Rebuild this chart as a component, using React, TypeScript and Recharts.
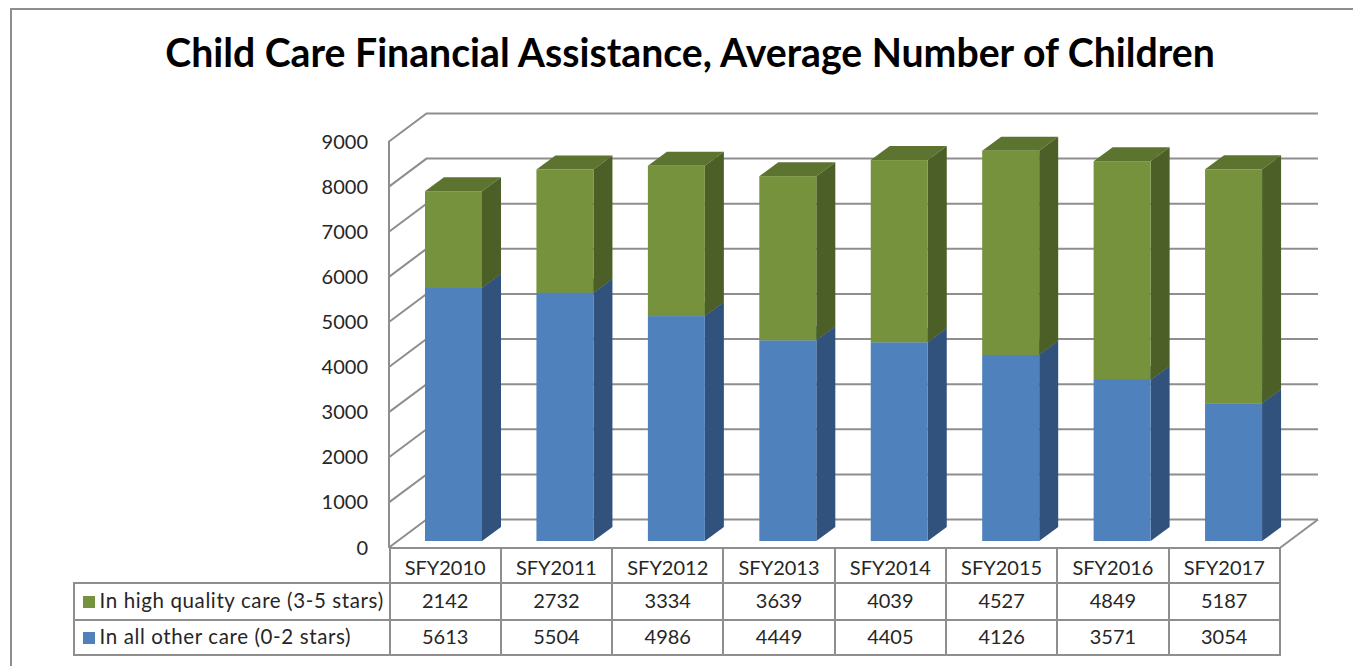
import { BarChart, Bar, XAxis, YAxis, CartesianGrid } from 'recharts';

const years = ['SFY2010', 'SFY2011', 'SFY2012', 'SFY2013', 'SFY2014', 'SFY2015', 'SFY2016', 'SFY2017'];
const highQuality = [2142, 2732, 3334, 3639, 4039, 4527, 4849, 5187];
const otherCare = [5613, 5504, 4986, 4449, 4405, 4126, 3571, 3054];
const yTicks = [0, 1000, 2000, 3000, 4000, 5000, 6000, 7000, 8000, 9000];

const TITLE = 'Child Care Financial Assistance, Average Number of Children';
const HIGH_LABEL = 'In high quality care (3-5 stars)';
const OTHER_LABEL = 'In all other care (0-2 stars)';

const chartData = years.map((year, i) => ({
  year,
  high: highQuality[i],
  other: otherCare[i],
}));

const FONT = 'Lato, "Open Sans", sans-serif';
const LINE = '#8e8e8e';
const TEXT = '#262626';

// 3D box depth
const DX = 19;
const DY = 14;
// wall offset from the bar plane
const WALL_LEFT = 389;
const WALL_BACK = 426.5;
const WALL_RIGHT = 1318;

const Box3D = (front: string, side: string, top: string) => (props: any) => {
  const { x, y, width, height } = props;
  const r = x + width;
  const b = y + height;
  return (
    <g>
      <polygon points={`${x},${y} ${x + DX},${y - DY} ${r + DX},${y - DY} ${r},${y}`} fill={top} />
      <polygon points={`${r},${y} ${r + DX},${y - DY} ${r + DX},${b - DY} ${r},${b}`} fill={side} />
      <rect x={x} y={y} width={width} height={height} fill={front} />
    </g>
  );
};

// grid line runs along the left wall then the back wall
const WallLine = (props: any) => {
  const y = props.y1;
  const front = y + 6.5;
  const back = y - 21.5;
  return (
    <path
      key={props.key ?? y}
      d={`M${WALL_LEFT},${front} L${WALL_BACK},${back} L${WALL_RIGHT},${back}`}
      fill="none"
      stroke={LINE}
      strokeWidth={2}
    />
  );
};

const cellBorder = `2px solid ${LINE}`;

function DataTable() {
  const rows = [
    { label: HIGH_LABEL, color: '#76923C', values: highQuality, height: 37 },
    { label: OTHER_LABEL, color: '#4F81BD', values: otherCare, height: 35 },
  ];
  const cell: React.CSSProperties = {
    border: cellBorder,
    padding: 0,
    paddingBottom: 3,
    textAlign: 'center',
    fontSize: 20,
    color: TEXT,
    boxSizing: 'border-box',
  };
  return (
    <table
      style={{
        position: 'absolute',
        left: 72.5,
        top: 547,
        width: 1206.4,
        tableLayout: 'fixed',
        borderCollapse: 'collapse',
        fontFamily: FONT,
      }}
    >
      <colgroup>
        <col style={{ width: 316 }} />
        {years.map((y) => (
          <col key={y} style={{ width: 111.3 }} />
        ))}
      </colgroup>
      <tbody>
        <tr style={{ height: 35 }}>
          <td style={{ ...cell, border: 'none', borderRight: cellBorder, borderBottom: cellBorder }} />
          {years.map((y) => (
            <td key={y} style={{ ...cell, paddingBottom: 0, paddingTop: 2 }}>{y}</td>
          ))}
        </tr>
        {rows.map((row) => (
          <tr key={row.label} style={{ height: row.height }}>
            <td
              style={{
                ...cell,
                textAlign: 'left',
                whiteSpace: 'nowrap',
                paddingLeft: 8,
                fontSize: 20.5,
                letterSpacing: 0.62,
              }}
            >
              <span
                style={{
                  display: 'inline-block',
                  width: 12,
                  height: 12,
                  background: row.color,
                  marginRight: 5,
                }}
              />
              {row.label}
            </td>
            {row.values.map((v, i) => (
              <td key={years[i]} style={cell}>{v}</td>
            ))}
          </tr>
        ))}
      </tbody>
    </table>
  );
}

export default function App() {
  return (
    <div
      style={{
        position: 'absolute',
        left: 0,
        top: 0,
        width: 1353,
        height: 666,
        overflow: 'hidden',
        background: '#fff',
        fontFamily: FONT,
      }}
    >
      {/* outer frame, only top and left show in the crop */}
      <div
        style={{
          position: 'absolute',
          left: 10,
          top: 8,
          width: 1400,
          height: 700,
          borderTop: `2px solid ${LINE}`,
          borderLeft: `2px solid ${LINE}`,
        }}
      />
      <div
        style={{
          position: 'absolute',
          left: 0,
          width: 1380,
          top: 28,
          textAlign: 'center',
          fontSize: 39.2,
          fontWeight: 700,
          color: '#000',
          whiteSpace: 'nowrap',
        }}
      >
        {TITLE}
      </div>

      <BarChart
        width={1353}
        height={666}
        data={chartData}
        margin={{ top: 135, right: 1353 - 398 - 891.5, bottom: 666 - 541, left: 338 }}
        style={{ position: 'absolute', left: 0, top: 0 }}
      >
        <CartesianGrid vertical={false} horizontal={WallLine} />
        <XAxis dataKey="year" hide />
        <YAxis
          width={60}
          domain={[0, 9000]}
          ticks={yTicks}
          interval={0}
          axisLine={false}
          tickLine={false}
          tick={{ fontSize: 20, fill: TEXT, dx: -22, dy: 6.5, fontFamily: FONT }}
        />
        <Bar
          dataKey="other"
          stackId="a"
          barSize={57}
          fill="#4F81BD"
          shape={Box3D('#4F81BD', '#31527C', '#3F6797')}
          isAnimationActive={false}
        />
        <Bar
          dataKey="high"
          stackId="a"
          barSize={57}
          fill="#76923C"
          shape={Box3D('#76923C', '#4C5F26', '#5C7430')}
          isAnimationActive={false}
        />
      </BarChart>

      {/* left wall edge and floor */}
      <svg width={1353} height={666} style={{ position: 'absolute', left: 0, top: 0, pointerEvents: 'none' }}>
        <path d={`M${WALL_LEFT},141 L${WALL_LEFT},548`} stroke={LINE} strokeWidth={2} fill="none" />
        <path d={`M${WALL_RIGHT},519.5 L1280.5,547.5`} stroke={LINE} strokeWidth={2} fill="none" />
      </svg>

      <DataTable />
    </div>
  );
}
